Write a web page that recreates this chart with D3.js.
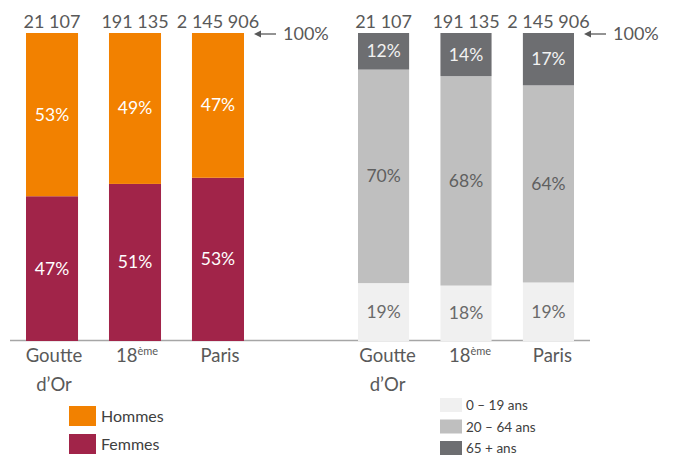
<!DOCTYPE html>
<html><head><meta charset="utf-8">
<script src="https://cdn.jsdelivr.net/npm/d3@7"></script>
<style>body{margin:0;background:#fff}svg{display:block}text{font-family:Lato,"Open Sans",sans-serif}</style>
</head><body>
<svg id="c" width="678" height="456"></svg>
<script>
const categories = ["Goutte d’Or", "18ème", "Paris"];
const totals = ["21 107", "191 135", "2 145 906"];
const hommes = [53, 49, 47];
const femmes = [47, 51, 53];
const age0_19 = [19, 18, 19];
const age20_64 = [70, 68, 64];
const age65 = [12, 14, 17];
const sexKeys = ["Femmes", "Hommes"];
const ageKeys = ["0 – 19 ans", "20 – 64 ans", "65 + ans"];

const svg = d3.select("#c");
const y = d3.scaleLinear().domain([0, 1]).range([341, 33]);
const txt = "#595959";

// axis baseline
svg.append("line").attr("x1", 10).attr("x2", 590).attr("y1", 340.5).attr("y2", 340.5)
  .attr("stroke", "#a6a6a6").attr("stroke-width", 1.5);

function panel(opts) {
  const x = d3.scaleBand().domain(categories).range(opts.range).paddingInner(opts.pad).paddingOuter(0);
  const rows = categories.map((c, i) => {
    const r = {cat: c};
    opts.keys.forEach((k, j) => r[k] = opts.series[j][i]);
    return r;
  });
  const stacked = d3.stack().keys(opts.keys).offset(d3.stackOffsetExpand)(rows);
  const g = svg.append("g");
  stacked.forEach((layer, li) => {
    g.selectAll(null).data(layer).enter().append("rect")
      .attr("x", d => x(d.data.cat)).attr("width", x.bandwidth())
      .attr("y", d => y(d[1])).attr("height", d => y(d[0]) - y(d[1]))
      .attr("fill", opts.colors[li]);
    g.selectAll(null).data(layer).enter().append("text")
      .attr("x", d => x(d.data.cat) + x.bandwidth() / 2)
      .attr("y", d => (y(d[0]) + y(d[1])) / 2 + 6)
      .attr("text-anchor", "middle").attr("font-size", 17.5)
      .attr("fill", opts.textColors[li])
      .text(d => d.data[opts.keys[li]] + "%");
  });
  // totals
  g.selectAll(null).data(categories).enter().append("text")
    .attr("x", (c) => x(c) + x.bandwidth() / 2).attr("y", 28)
    .attr("text-anchor", "middle").attr("font-size", 18).attr("fill", txt)
    .text((c, i) => totals[i]);
  // 100% arrow
  const ax = opts.range[1] + 10;
  g.append("line").attr("x1", ax + 3).attr("x2", ax + 22).attr("y1", 34).attr("y2", 34)
    .attr("stroke", txt).attr("stroke-width", 1.3);
  g.append("path").attr("d", `M${ax},34 L${ax + 7},30.5 L${ax + 7},37.5 Z`).attr("fill", txt);
  g.append("text").attr("x", ax + 29).attr("y", 40).attr("font-size", 18).attr("fill", txt).text("100%");
  // x labels
  categories.forEach((c, i) => {
    const cx = x(c) + x.bandwidth() / 2 + opts.lblOff;
    if (i === 0) {
      g.append("text").attr("x", cx).attr("y", 362).attr("text-anchor", "middle")
        .attr("font-size", 18.5).attr("fill", txt).text("Goutte");
      g.append("text").attr("x", cx).attr("y", 391).attr("text-anchor", "middle")
        .attr("font-size", 18.5).attr("fill", txt).text("d’Or");
    } else if (i === 1) {
      const t = g.append("text").attr("x", cx).attr("y", 362).attr("text-anchor", "middle")
        .attr("font-size", 18.5).attr("fill", txt);
      t.append("tspan").text("18");
      t.append("tspan").attr("font-size", 11).attr("dy", -7).text("ème");
    } else {
      g.append("text").attr("x", cx).attr("y", 362).attr("text-anchor", "middle")
        .attr("font-size", 18.5).attr("fill", txt).text(c);
    }
  });
}

const sexColors = ["#a12449", "#f28100"];
panel({range: [26, 244], pad: 0.373, keys: sexKeys, series: [femmes, hommes],
  colors: sexColors, textColors: ["#ffffff", "#ffffff"], lblOff: 2});

const ageColors = ["#f0f0f0", "#bfbfbf", "#6d6e71"];
panel({range: [358, 574], pad: 0.38, keys: ageKeys, series: [age0_19, age20_64, age65],
  colors: ageColors, textColors: ["#6a6a6a", "#5f5f5f", "#f2f2f2"], lblOff: 4});

// legends
const legL = [{k: "Hommes", c: sexColors[1]}, {k: "Femmes", c: sexColors[0]}];
legL.forEach((d, i) => {
  svg.append("rect").attr("x", 69).attr("y", 406 + i * 28).attr("width", 27).attr("height", 20).attr("fill", d.c);
  svg.append("text").attr("x", 101).attr("y", 422 + i * 28).attr("font-size", 16).attr("fill", "#404040").text(d.k);
});
ageKeys.forEach((k, i) => {
  svg.append("rect").attr("x", 440).attr("y", 398 + i * 21.5).attr("width", 22).attr("height", 14).attr("fill", ageColors[i]);
  svg.append("text").attr("x", 466).attr("y", 410 + i * 21.5).attr("font-size", 13.5).attr("fill", "#404040").text(k);
});
</script>
</body></html>
